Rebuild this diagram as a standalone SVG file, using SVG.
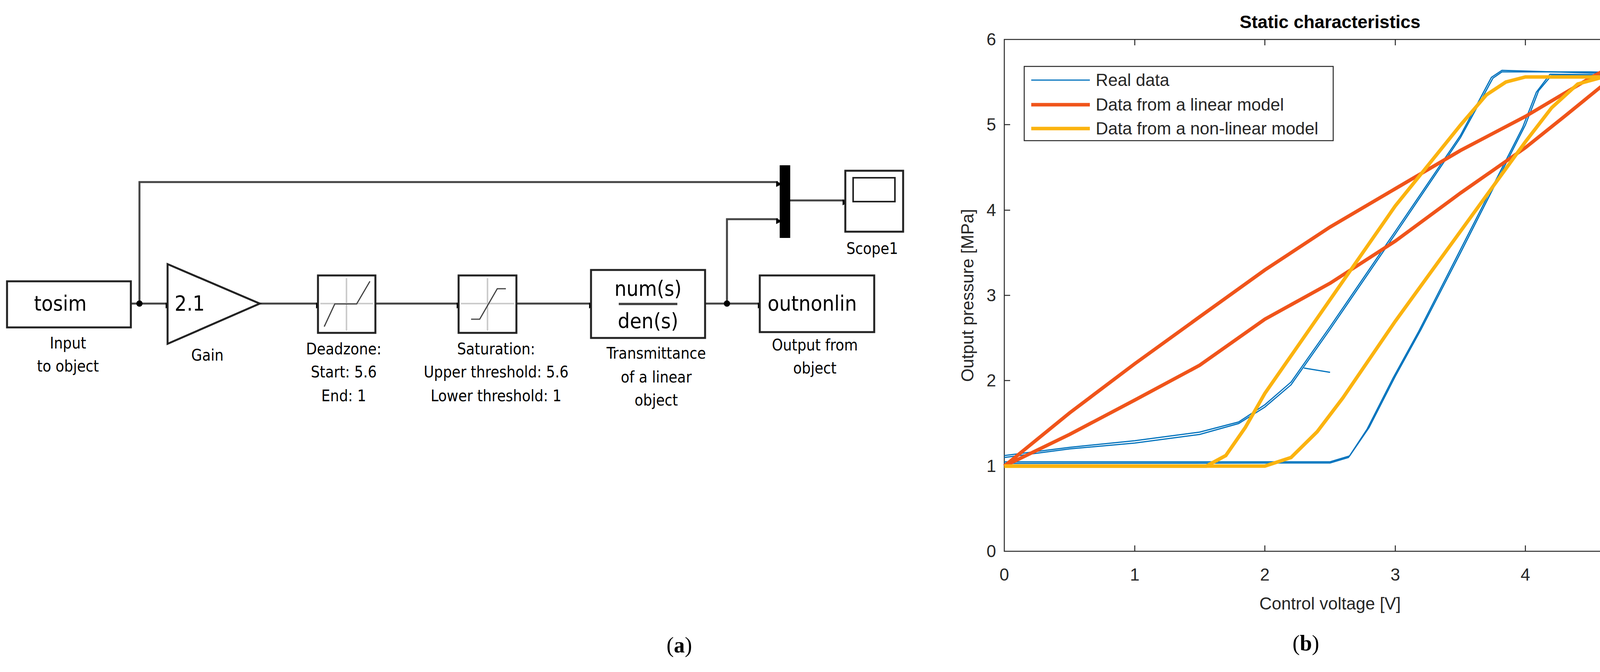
<svg xmlns="http://www.w3.org/2000/svg" width="4272" height="1720" viewBox="0 0 4272 1720">
<style>
.bk{fill:#fff;stroke:#222;stroke-width:5}
.ln{fill:none;stroke:#444;stroke-width:5}
.lbl{font-family:"DejaVu Sans Condensed","Liberation Sans",sans-serif;font-size:40px;fill:#000;text-anchor:middle}
.big{font-family:"DejaVu Sans Condensed","Liberation Sans",sans-serif;font-size:54px;fill:#000}
.ax{font-family:"Liberation Sans",Arial,sans-serif;font-size:44px;fill:#262626}
.tk{stroke:#262626;stroke-width:2.5}
.blue{fill:none;stroke:#0072BD;stroke-width:3}
.red{fill:none;stroke:#F0541A;stroke-width:9}
.yel{fill:none;stroke:#FBB30F;stroke-width:9}
.gr{stroke:#ccc;stroke-width:4}
</style>
<defs>
<marker id="ar" viewBox="0 0 10 10" refX="10" refY="5" markerWidth="5" markerHeight="5" orient="auto" markerUnits="userSpaceOnUse" style="overflow:visible">
<path d="M0,0 L10,5 L0,10 z" fill="#000" transform="scale(3)" />
</marker>
</defs>
<rect width="4272" height="1720" fill="#fff"/>
<g id="connectors">
<path class="ln" d="M335,777 H429" marker-end="url(#ar)"/>
<path class="ln" d="M357,777 V466 H1992" marker-end="url(#ar)"/>
<path class="ln" d="M665,777 H814" marker-end="url(#ar)"/>
<path class="ln" d="M961,777 H1174" marker-end="url(#ar)"/>
<path class="ln" d="M1322,777 H1513" marker-end="url(#ar)"/>
<path class="ln" d="M1805,777 H1945" marker-end="url(#ar)"/>
<path class="ln" d="M1861,777 V561 H1992" marker-end="url(#ar)"/>
<path class="ln" d="M2023,513 H2162" marker-end="url(#ar)"/>
<circle cx="357" cy="777" r="8" fill="#000"/>
<circle cx="1861" cy="777" r="8" fill="#000"/>
</g>
<g id="tosim"><rect class="bk" x="18" y="720" width="317" height="118"/><text class="big" x="87" y="795">tosim</text>
<text class="lbl" x="174" y="892">Input</text><text class="lbl" x="174" y="951">to object</text></g>
<g id="gain"><polygon class="bk" points="429,676 665,777 429,880"/><text class="big" x="447" y="795">2.1</text><text class="lbl" x="531" y="923">Gain</text></g>
<g id="deadzone"><rect class="bk" x="814" y="705" width="147" height="147"/>
<line class="gr" x1="820" y1="777" x2="955" y2="777"/><line class="gr" x1="887" y1="712" x2="887" y2="846"/>
<polyline points="830,836 857,778 913,778 947,720" fill="none" stroke="#444" stroke-width="3"/>
<text class="lbl" x="880" y="907">Deadzone:</text><text class="lbl" x="880" y="966">Start: 5.6</text><text class="lbl" x="880" y="1027">End: 1</text></g>
<g id="saturation"><rect class="bk" x="1174" y="705" width="148" height="147"/>
<line class="gr" x1="1180" y1="777" x2="1316" y2="777"/><line class="gr" x1="1248" y1="712" x2="1248" y2="846"/>
<polyline points="1206,817 1228,817 1273,739 1295,739" fill="none" stroke="#444" stroke-width="3"/>
<text class="lbl" x="1270" y="907">Saturation:</text><text class="lbl" x="1270" y="966">Upper threshold: 5.6</text><text class="lbl" x="1270" y="1027">Lower threshold: 1</text></g>
<g id="tf"><rect class="bk" x="1513" y="691" width="292" height="174"/>
<text class="big" x="1659" y="757" text-anchor="middle">num(s)</text><line x1="1584" y1="778" x2="1734" y2="778" stroke="#444" stroke-width="6"/><text class="big" x="1659" y="840" text-anchor="middle">den(s)</text>
<text class="lbl" x="1680" y="918">Transmittance</text><text class="lbl" x="1680" y="979">of a linear</text><text class="lbl" x="1680" y="1038">object</text></g>
<g id="outnonlin"><rect class="bk" x="1945" y="705" width="293" height="145"/><text class="big" x="1965" y="795">outnonlin</text>
<text class="lbl" x="2086" y="897">Output from</text><text class="lbl" x="2086" y="956">object</text></g>
<g id="mux"><rect x="1996" y="423" width="27" height="186" fill="#000"/></g>
<g id="scope"><rect class="bk" x="2164" y="437" width="148" height="156"/><rect x="2184" y="455" width="107" height="61" fill="#fff" stroke="#222" stroke-width="4"/><text class="lbl" x="2233" y="650">Scope1</text></g>
<text x="1739" y="1670" font-family="Liberation Serif,serif" font-size="56" text-anchor="middle">(<tspan font-weight="bold">a</tspan>)</text>

<g id="plot">
<rect x="2571" y="101" width="1668" height="1310" fill="#fff" stroke="#262626" stroke-width="2.5"/>
<g class="tk">
<path d="M2571,1411h0 M2905,1411v-15 M3238,1411v-15 M3572,1411v-15 M3905,1411v-15 M2905,101v15 M3238,101v15 M3572,101v15 M3905,101v15"/>
<path d="M2571,1193h15 M2571,974h15 M2571,756h15 M2571,538h15 M2571,319h15 M4239,1193h-15 M4239,974h-15 M4239,756h-15 M4239,538h-15 M4239,319h-15"/>
</g>
<g class="ax" text-anchor="middle">
<text x="2571" y="1486">0</text><text x="2905" y="1486">1</text><text x="3238" y="1486">2</text><text x="3572" y="1486">3</text><text x="3905" y="1486">4</text><text x="4239" y="1486">5</text>
</g>
<g class="ax" text-anchor="end">
<text x="2550" y="1426">0</text><text x="2550" y="1208">1</text><text x="2550" y="989">2</text><text x="2550" y="771">3</text><text x="2550" y="553">4</text><text x="2550" y="334">5</text><text x="2550" y="116">6</text>
</g>
<text class="ax" x="3405" y="1560" font-size="50" text-anchor="middle">Control voltage [V]</text>
<text class="ax" x="0" y="0" font-size="50" text-anchor="middle" transform="translate(2492,756) rotate(-90)">Output pressure [MPa]</text>
<text x="3405" y="72" font-family="Liberation Sans,Arial,sans-serif" font-weight="bold" font-size="46" text-anchor="middle">Static characteristics</text>
<polyline class="blue" points="2571,1171 2738,1149 2905,1134 3071,1112 3171,1084 3238,1042 3305,985 3405,843 3572,599 3739,352 3822,200 3845,184 4072,184 4239,189"/>
<polyline class="blue" points="2571,1166 2738,1145 2905,1128 3071,1106 3171,1080 3238,1036 3305,978 3405,836 3572,592 3739,346 3818,198 3845,180 4072,187 4239,185"/>
<polyline class="blue" points="4239,189 3972,193 3939,232 3905,320 3839,450 3739,647 3638,843 3572,963 3505,1094 3455,1167 3405,1182 2571,1182"/>
<polyline class="blue" points="4239,193 3968,190 3933,236 3898,326 3832,456 3732,652 3632,848 3566,968 3500,1098 3452,1171 3405,1185 2571,1186"/>
<polyline class="blue" points="3338,942 3405,953"/>
<polyline class="red" points="2571,1193 2738,1057 2905,931 3071,811 3238,691 3405,581 3572,483 3739,385 3905,298 4072,199 4172,145 4239,108 4139,189 4005,298 3905,378 3739,494 3572,617 3405,725 3238,817 3071,935 2905,1024 2738,1112 2571,1193"/>
<polyline class="yel" points="2571,1193 3088,1193 3138,1166 3188,1094 3238,1007 3572,527 3739,320 3805,243 3855,210 3905,197 4239,197"/>
<polyline class="yel" points="2571,1193 3238,1193 3305,1171 3372,1105 3438,1018 3572,822 3905,363 3972,276 4039,215 4105,197 4239,197"/>
<g id="legend">
<rect x="2622" y="170" width="791" height="190" fill="#fff" stroke="#262626" stroke-width="2.5"/>
<line x1="2640" y1="205" x2="2790" y2="205" stroke="#0072BD" stroke-width="3"/>
<line x1="2640" y1="268" x2="2790" y2="268" stroke="#F0541A" stroke-width="9"/>
<line x1="2640" y1="329" x2="2790" y2="329" stroke="#FBB30F" stroke-width="9"/>
<g class="ax" font-size="42" fill="#000"><text x="2805" y="220">Real data</text><text x="2805" y="283">Data from a linear model</text><text x="2805" y="344">Data from a non-linear model</text></g>
</g>
</g>
<text x="3343" y="1665" font-family="Liberation Serif,serif" font-size="56" text-anchor="middle">(<tspan font-weight="bold">b</tspan>)</text>
</svg>
